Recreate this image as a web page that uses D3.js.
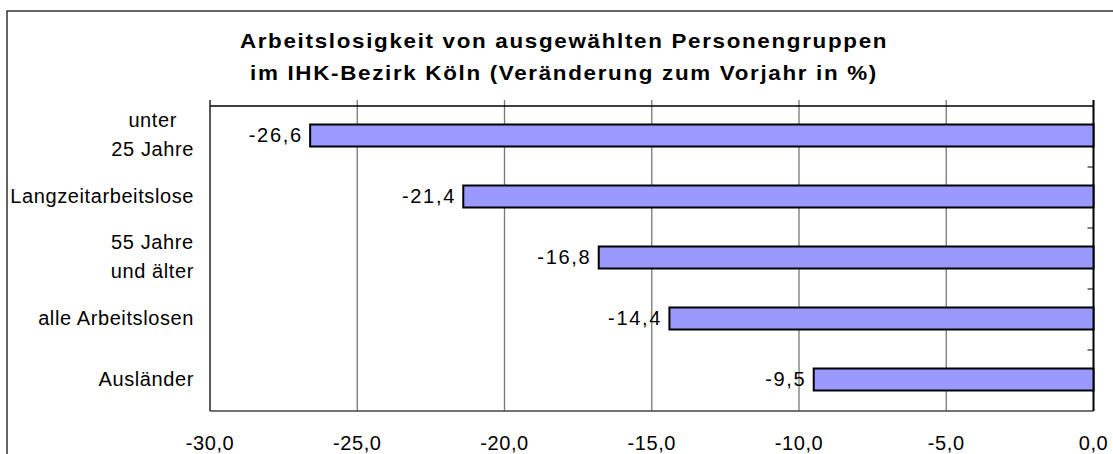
<!DOCTYPE html>
<html>
<head>
<meta charset="utf-8">
<script src="https://cdn.jsdelivr.net/npm/d3@7"></script>
<style>
  body { margin: 0; background: #fff; }
  svg { display: block; font-family: "Liberation Sans", Arial, sans-serif; }
</style>
</head>
<body>
<svg width="1113" height="454"></svg>
<script>
const titleLines = [
  "Arbeitslosigkeit von ausgewählten Personengruppen",
  "im IHK-Bezirk Köln (Veränderung zum Vorjahr in %)"
];
const categories = ["unter\n25 Jahre", "Langzeitarbeitslose", "55 Jahre\nund älter", "alle Arbeitslosen", "Ausländer"];
const values = [-26.6, -21.4, -16.8, -14.4, -9.5];
const xTicks = [-30, -25, -20, -15, -10, -5, 0];

const svg = d3.select("svg");
const fmt = (v) => d3.format(".1f")(v).replace(".", ",").replace("−", "-");

const plotLeft = 210, plotRight = 1093.5, plotTop = 106, plotBottom = 411;

const x = d3.scaleLinear().domain([-30, 0]).range([plotLeft, plotRight]);
const y = d3.scaleBand().domain(categories).range([plotTop, plotBottom]);

// outer frame (runs off the picture at right and bottom)
svg.append("rect")
  .attr("x", 7).attr("y", 11)
  .attr("width", 1130).attr("height", 470)
  .attr("fill", "none").attr("stroke", "#333").attr("stroke-width", 1.5);

// title - the original is drawn with a wide, stretched face
svg.append("g")
  .selectAll("text")
  .data(titleLines)
  .join("text")
  .attr("transform", (d, i) => `translate(564,${48 + i * 32}) scale(1.12,1)`)
  .attr("text-anchor", "middle")
  .attr("font-size", 20)
  .attr("font-weight", "bold")
  .attr("letter-spacing", 1.5)
  .text((d) => d);

// gridlines
svg.append("g")
  .selectAll("line")
  .data(xTicks.slice(1, -1))
  .join("line")
  .attr("x1", (d) => x(d)).attr("x2", (d) => x(d))
  .attr("y1", plotTop - 6).attr("y2", plotBottom)
  .attr("stroke", "#777").attr("stroke-width", 1.3);

// plot borders
svg.append("line").attr("x1", plotLeft).attr("x2", plotRight).attr("y1", plotTop).attr("y2", plotTop)
  .attr("stroke", "#000").attr("stroke-width", 1.5);
svg.append("line").attr("x1", plotLeft).attr("x2", plotRight).attr("y1", plotBottom).attr("y2", plotBottom)
  .attr("stroke", "#444").attr("stroke-width", 1.5);
svg.append("line").attr("x1", plotLeft).attr("x2", plotLeft).attr("y1", plotTop - 6).attr("y2", plotBottom)
  .attr("stroke", "#222").attr("stroke-width", 1.5);

// right (zero) axis with category ticks
svg.append("line").attr("x1", x(0)).attr("x2", x(0)).attr("y1", plotTop - 6).attr("y2", plotBottom)
  .attr("stroke", "#000").attr("stroke-width", 2);
svg.append("g")
  .selectAll("line")
  .data(categories.slice(1))
  .join("line")
  .attr("x1", x(0) - 6).attr("x2", x(0))
  .attr("y1", (d) => y(d)).attr("y2", (d) => y(d))
  .attr("stroke", "#000").attr("stroke-width", 1);

// bars
const barH = 22;
svg.append("g")
  .selectAll("rect")
  .data(values)
  .join("rect")
  .attr("x", (d) => x(d))
  .attr("y", (d, i) => y(categories[i]) + y.bandwidth() / 2 - barH / 2 - 1)
  .attr("width", (d) => x(0) - x(d))
  .attr("height", barH)
  .attr("fill", "#9999ff")
  .attr("stroke", "#000")
  .attr("stroke-width", 2);

// value labels
const ls = 1.7;
svg.append("g")
  .selectAll("text")
  .data(values)
  .join("text")
  .attr("x", (d) => x(d) - 9 + ls)
  .attr("y", (d, i) => y(categories[i]) + y.bandwidth() / 2 + 5)
  .attr("text-anchor", "end")
  .attr("font-size", 20)
  .attr("letter-spacing", ls)
  .text((d) => fmt(d));

// x tick labels
svg.append("g")
  .selectAll("text")
  .data(xTicks)
  .join("text")
  .attr("x", (d) => x(d))
  .attr("y", 450)
  .attr("text-anchor", "middle")
  .attr("font-size", 20)
  .attr("letter-spacing", 0.6)
  .text((d) => fmt(d));

// category labels, multi-line centred within a right-aligned block
const labelRight = 194;
categories.forEach((c) => {
  const lines = c.split("\n");
  const cy = y(c) + y.bandwidth() / 2;
  const t = svg.append("text")
    .attr("font-size", 20)
    .attr("letter-spacing", 0.6);
  const spans = lines.map((line, i) =>
    t.append("tspan")
      .attr("x", 0)
      .attr("y", cy + 5 + (i - (lines.length - 1) / 2) * 29.5)
      .text(line)
  );
  const widths = spans.map((s) => s.node().getComputedTextLength());
  const maxW = d3.max(widths);
  spans.forEach((s, i) => s.attr("x", labelRight - maxW + (maxW - widths[i]) / 2));
});
</script>
</body>
</html>
